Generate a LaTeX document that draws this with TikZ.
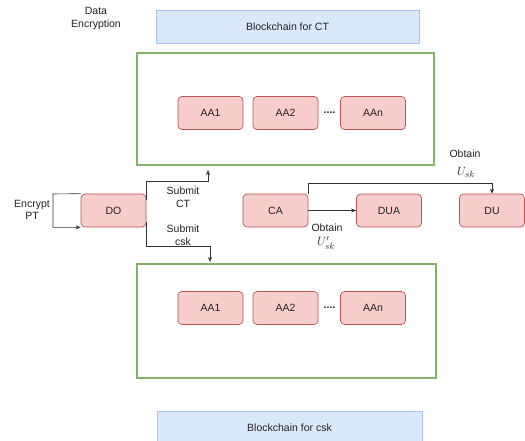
\documentclass[tikz,border=0pt]{standalone}
\usepackage{fontspec}
\setmainfont{Liberation Sans}
\usetikzlibrary{arrows.meta}
\definecolor{redfill}{HTML}{F8CECC}
\definecolor{redline}{HTML}{B85450}
\definecolor{bluefill}{HTML}{DAE8FC}
\definecolor{blueline}{HTML}{A9C4EB}
\definecolor{greenline}{HTML}{82B366}
\definecolor{wire}{HTML}{333333}
\definecolor{txt}{HTML}{222222}
\begin{document}
\begin{tikzpicture}[x=1pt,y=-1pt,
  every node/.style={font=\fontsize{10.5}{12.5}\selectfont, inner sep=0pt, text=txt},
  ent/.style={draw=redline, fill=redfill, rounded corners=4pt, minimum width=65pt, minimum height=33pt, line width=0.7pt},
  chain/.style={draw=blueline, fill=bluefill, line width=0.8pt},
  group/.style={draw=greenline, line width=2.8pt},
  lab/.style={align=center},
  mathlab/.style={font=\fontsize{13}{15}\selectfont},
  dots/.style={font=\fontsize{10.5}{12.5}\selectfont\bfseries},
  wireline/.style={draw=wire, line width=0.6pt},
  arr/.style={wireline, -{Stealth[length=5pt,width=4pt]}}
]
\useasboundingbox (0,0) rectangle (525,441);
% blockchains
\node[chain, minimum width=263pt, minimum height=33pt] (bct) at (287.5,26.5) {Blockchain for CT};
\node[chain, minimum width=265pt, minimum height=34pt] (bcsk) at (289.5,428) {Blockchain for csk};
\node[lab] (dataenc) at (96,18.5) {Data\\Encryption};
% groups
\node[group, minimum width=297pt, minimum height=112pt] (g1) at (285.5,109) {};
\node[group, minimum width=299pt, minimum height=114pt] (g2) at (286.5,321) {};
% AA top
\node[ent] (a1) at (210.5,113) {AA1};
\node[ent] (a2) at (285.5,113) {AA2};
\node[ent] (an) at (373,113) {AAn};
\node[dots] (d1) at (329.5,112.5) {....};
% AA bottom
\node[ent] (b1) at (210.5,308) {AA1};
\node[ent] (b2) at (285.5,308) {AA2};
\node[ent] (bn) at (373,308) {AAn};
\node[dots] (d2) at (329.5,307.5) {....};
% main row
\node[ent] (do) at (113.5,210.5) {DO};
\node[ent] (ca) at (275.5,210.5) {CA};
\node[ent] (dua) at (389,210.5) {DUA};
\node[ent] (du) at (492,210.5) {DU};
% coordinates
\coordinate (ept) at (53,194);
\coordinate (ctu) at (146,181);
\coordinate (ctt) at (208,170);
\coordinate (cskd) at (146,246);
\coordinate (cskt) at (210,262);
\coordinate (cat) at (308,183);
% encrypt loop
\draw[arr] (do.north west) -- (ept) |- (do.south west);
\node[lab] (enc) at (32,210) {Encrypt\\PT};
% submit CT
\draw[arr] (146,200) -- (ctu) -| (ctt);
\node[lab] (sct) at (183,197) {Submit\\CT};
% submit csk
\draw[arr] (146,222) -- (cskd) -| (cskt);
\node[lab] (scsk) at (183,235) {Submit\\csk};
% CA -> DUA
\draw[arr] (ca) -- (dua);
\node[lab] (ob1) at (327,228) {Obtain};
\node[mathlab] (ob1m) at (326,243) {$U'_{sk}$};
% CA -> DU
\draw[arr] (308,194) -- (cat) -| (du.north);
\node[lab] (ob2) at (465,154) {Obtain};
\node[mathlab] (ob2m) at (466,172) {$U_{sk}$};
\end{tikzpicture}
\end{document}
